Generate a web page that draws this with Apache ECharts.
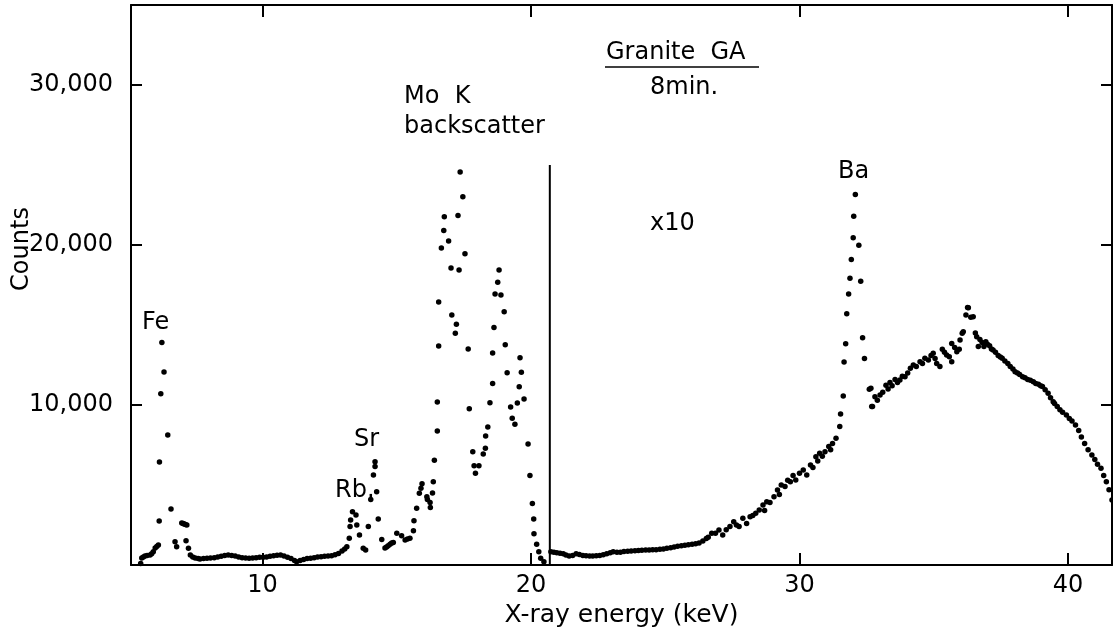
<!DOCTYPE html>
<html>
<head>
<meta charset="utf-8">
<title>Granite GA spectrum</title>
<script src="https://cdn.jsdelivr.net/npm/echarts@6/dist/echarts.min.js"></script>
<style>
  html, body { margin: 0; padding: 0; background: #fff; }
  #chart { width: 1113px; height: 643px; }
</style>
</head>
<body>
<div id="chart"></div>
<script>
// tick values
const xTicks = [10, 20, 30, 40];
const yTicks = [10000, 20000, 30000];

// left part: direct counts [keV, counts]
const leftSpectrum = [
  [5.46,100],[5.5,437],[5.56,500],[5.62,562],[5.7,600],[5.81,625],[5.87,700],[5.93,830],[6.0,1060],[6.06,1150],[6.12,1250],
  [6.15,2750],[6.16,6440],[6.21,10700],[6.25,13900],[6.33,12060],[6.47,8125],[6.59,3500],[6.74,1460],[6.8,1140],
  [6.99,2625],[7.04,2590],[7.08,2560],[7.13,2530],[7.18,2500],[7.15,1520],[7.24,1040],[7.31,625],
  [7.4,500],[7.49,437],[7.6,400],[7.67,375],[7.8,400],[7.93,420],[8.06,440],[8.2,460],[8.33,500],[8.46,540],[8.59,600],
  [8.72,625],[8.85,600],[8.98,560],[9.11,500],[9.24,460],[9.37,440],[9.5,420],[9.63,440],[9.76,460],[9.89,480],[10.02,480],
  [10.15,500],[10.28,540],[10.41,580],[10.54,610],[10.67,625],[10.8,560],[10.93,480],[11.06,400],[11.19,280],[11.27,210],
  [11.4,280],[11.53,340],[11.66,400],[11.79,420],[11.92,460],[12.05,500],[12.18,520],[12.31,540],[12.44,560],[12.57,580],
  [12.7,640],[12.83,720],[12.96,870],[13.06,1000],[13.14,1140],
  [13.23,1670],[13.26,2400],[13.28,2810],[13.35,3330],[13.48,3125],[13.51,2500],[13.61,1875],[13.75,1040],[13.84,940],
  [13.94,2400],[14.03,4100],[14.13,5625],[14.19,6150],[14.19,6460],[14.25,4580],[14.31,2875],[14.44,1600],
  [14.56,1060],[14.62,1120],[14.68,1200],[14.75,1300],[14.81,1375],[14.87,1400],[15.0,1980],[15.18,1830],[15.31,1560],
  [15.4,1620],[15.49,1670],[15.62,2140],[15.64,2770],[15.74,3540],[15.84,4480],[15.9,4800],[15.94,5080],[16.12,4270],
  [16.14,4100],[16.24,3900],[16.25,3600],[16.33,4500],[16.36,5200],[16.4,6540],[16.51,8375],[16.51,10190],[16.56,13690],
  [16.56,16440],[16.66,19810],[16.75,20900],[16.77,21770],[16.93,20250],[17.02,18560],[17.05,15625],[17.18,14480],
  [17.22,15040],[17.28,21850],[17.32,18440],[17.36,24560],[17.46,23020],[17.54,19460],[17.66,13500],[17.7,9770],
  [17.83,7080],[17.88,6200],[17.93,5730],[18.06,6200],[18.22,6940],[18.3,7290],[18.31,8060],[18.39,8625],[18.47,10140],
  [18.57,11350],[18.57,13250],[18.62,14850],[18.66,16940],[18.76,17670],[18.81,18440],[18.88,16875],[19.0,15830],
  [19.04,13770],[19.11,12020],[19.24,9875],[19.3,9170],[19.4,8790],[19.49,10125],[19.56,11140],[19.59,12960],[19.64,12040],
  [19.74,10375],[19.89,7560],[19.96,5600],[20.05,3850],[20.1,2875],[20.11,1960],[20.21,1290],[20.29,830],[20.36,420],[20.48,210]
];

// right part: counts shown x10 [keV, counts]
const rightSpectrum = [
  [20.74,830],[20.85,800],[20.96,760],[21.08,730],[21.2,700],[21.3,620],[21.42,560],[21.55,600],[21.68,700],[21.8,650],
  [21.93,600],[22.05,580],[22.18,560],[22.3,560],[22.43,580],[22.56,600],[22.69,640],[22.82,700],[22.95,760],[23.06,830],
  [23.2,800],[23.33,800],[23.46,840],[23.6,860],[23.73,870],[23.87,890],[24.0,900],[24.13,920],[24.27,930],[24.4,940],
  [24.53,950],[24.66,960],[24.8,980],[24.93,1000],[25.06,1040],[25.2,1080],[25.33,1130],[25.46,1170],[25.6,1210],
  [25.73,1240],[25.86,1270],[26.0,1300],[26.13,1330],[26.26,1380],[26.4,1500],[26.53,1650],[26.6,1730],[26.73,1980],
  [26.87,1980],[27.0,2190],[27.14,1875],[27.27,2200],[27.41,2400],[27.55,2710],[27.65,2500],[27.75,2400],[27.89,2920],
  [28.03,2600],[28.16,3020],[28.26,3100],[28.37,3230],[28.5,3440],[28.64,3750],[28.7,3400],[28.78,3960],[28.9,3900],
  [29.05,4270],[29.18,4690],[29.25,4400],[29.32,5000],[29.46,4900],[29.56,5300],[29.66,5210],[29.76,5600],[29.86,5310],
  [30.0,5730],[30.14,5940],[30.27,5620],[30.41,6250],[30.5,6100],[30.61,6770],[30.68,6500],[30.75,6980],[30.85,6800],
  [30.95,7080],[31.09,7400],[31.16,7200],[31.23,7600],[31.36,7920],[31.5,8650],[31.53,9440],
  [31.63,10560],[31.66,12690],[31.72,13830],[31.76,15710],[31.83,16940],[31.88,17920],[31.93,19100],[32.0,20460],
  [32.02,21790],[32.08,23150],[32.21,19980],[32.28,17730],[32.35,14210],[32.42,12900],
  [32.6,10980],[32.66,11040],[32.69,9900],[32.72,9900],[32.81,10520],[32.9,10300],[33.0,10625],[33.1,10800],[33.22,11230],
  [33.3,11000],[33.37,11400],[33.45,11200],[33.56,11600],[33.65,11400],[33.74,11560],[33.83,11800],[33.93,11770],
  [34.03,12000],[34.13,12300],[34.24,12500],[34.35,12400],[34.49,12710],[34.58,12600],[34.67,12920],[34.8,12810],
  [34.9,13100],[34.98,13230],[35.05,12900],[35.11,12600],[35.23,12400],[35.32,13480],[35.4,13300],[35.48,13125],
  [35.58,13020],[35.67,12710],[35.67,13850],[35.78,13600],[35.86,13330],[35.95,13480],[35.98,14060],[36.06,14480],
  [36.1,14580],[36.2,15625],[36.26,16100],[36.29,16080],[36.38,15480],[36.47,15520],[36.55,14500],[36.6,14270],
  [36.66,13650],[36.72,14100],[36.8,13900],[36.87,13650],[36.94,13960],[37.0,13800],[37.08,13700],[37.15,13500],
  [37.21,13440],[37.3,13300],[37.4,13100],[37.48,13000],[37.55,12920],[37.65,12750],[37.76,12600],[37.85,12400],
  [37.95,12250],[38.03,12080],[38.12,12000],[38.2,11900],[38.31,11770],[38.4,11700],[38.5,11600],[38.6,11550],
  [38.71,11460],[38.8,11350],[38.9,11300],[38.98,11200],[39.05,11150],[39.15,10950],[39.26,10730],[39.35,10450],
  [39.45,10200],[39.5,10100],[39.6,9900],[39.7,9700],[39.8,9550],[39.94,9380],[40.05,9150],[40.15,9000],[40.28,8750],
  [40.4,8400],[40.5,8000],[40.62,7600],[40.75,7200],[40.89,6875],[41.0,6600],[41.1,6300],[41.23,6040],[41.33,5600],
  [41.43,5200],[41.53,4700],[41.64,4060]
];

// the x10 divider
const divider = [[20.7, 0], [20.7, 25000]];

var chart = echarts.init(document.getElementById('chart'), null, {renderer: 'canvas'});
var font = '"DejaVu Sans", sans-serif';
var axisLine = {show: true, onZero: false, lineStyle: {color: '#000', width: 2}};
var tick = {show: true, inside: true, length: 12, lineStyle: {color: '#000', width: 2}, customValues: xTicks};
var ytick = {show: true, inside: true, length: 11, lineStyle: {color: '#000', width: 2}, customValues: yTicks};
var dot = {color: '#000', opacity: 1};

function txt(x, y, s, size) {
    return {type: 'text', x: x, y: y, style: {text: s, font: (size || 24) + 'px ' + font, fill: '#000', textVerticalAlign: 'middle', verticalAlign: 'middle'}};
}

chart.setOption({
    animation: false,
    backgroundColor: '#fff',
    grid: {left: 131, right: 1, top: 5, bottom: 78, containLabel: false, outerBoundsMode: 'none'},
    xAxis: [{
        type: 'value', position: 'bottom', min: 5.1, max: 41.64,
        axisLine: axisLine, axisTick: tick, splitLine: {show: false},
        axisLabel: {customValues: xTicks, color: '#000', fontSize: 24, fontFamily: font, margin: 9},
        name: 'X-ray energy (keV)', nameLocation: 'middle', nameGap: 34,
        nameTextStyle: {color: '#000', fontSize: 25, fontFamily: font}
    }, {
        type: 'value', position: 'top', min: 5.1, max: 41.64,
        axisLine: axisLine, axisTick: tick, splitLine: {show: false}, axisLabel: {show: false}
    }],
    yAxis: [{
        type: 'value', position: 'left', min: 0, max: 35000,
        axisLine: axisLine, axisTick: ytick, splitLine: {show: false},
        axisLabel: {customValues: yTicks, color: '#000', fontSize: 24, fontFamily: font, margin: 18,
            formatter: function (v) { return v.toLocaleString('en-US'); }}
    }, {
        type: 'value', position: 'right', min: 0, max: 35000,
        axisLine: axisLine, axisTick: ytick, splitLine: {show: false}, axisLabel: {show: false}
    }],
    series: [{
        type: 'scatter', data: leftSpectrum, symbolSize: 5.5, itemStyle: dot
    }, {
        type: 'scatter', data: rightSpectrum, symbolSize: 5.5, itemStyle: dot
    }, {
        type: 'line', data: divider, symbol: 'none', lineStyle: {color: '#000', width: 2}
    }],
    graphic: [
        {type: 'text', x: 22, y: 249, rotation: Math.PI / 2,
         style: {text: 'Counts', font: '24px ' + font, fill: '#000', textAlign: 'center', align: 'center',
                 textVerticalAlign: 'middle', verticalAlign: 'middle'}},
        txt(142, 323, 'Fe'),
        txt(335, 491, 'Rb.'),
        txt(354, 440, 'Sr'),
        txt(404, 97, 'Mo  K'),
        txt(404, 127, 'backscatter'),
        txt(606, 53, 'Granite  GA'),
        {type: 'line', shape: {x1: 605, y1: 67, x2: 759, y2: 67}, style: {stroke: '#000', lineWidth: 1.5}},
        txt(650, 88, '8min.'),
        txt(650, 224, 'x10'),
        txt(838, 172, 'Ba')
    ]
});
</script>
</body>
</html>
